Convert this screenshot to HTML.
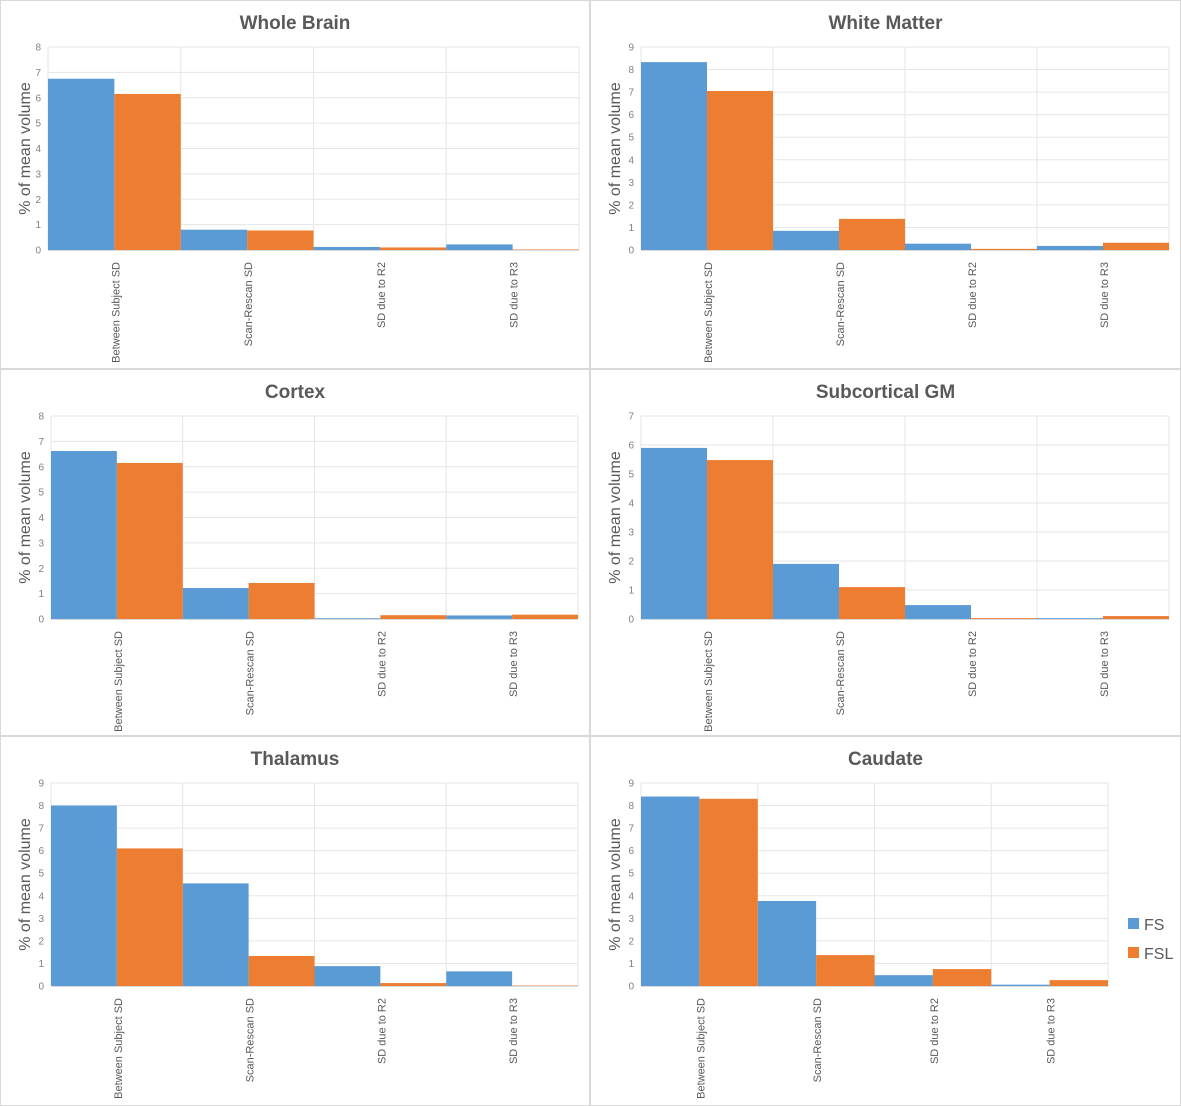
<!DOCTYPE html>
<html><head><meta charset="utf-8">
<style>
html,body{margin:0;padding:0;background:#fff;}
svg{display:block;font-family:"Liberation Sans",sans-serif;}
</style></head>
<body>
<svg id="chart" width="1181" height="1106" viewBox="0 0 1181 1106" xmlns="http://www.w3.org/2000/svg"></svg>
<script>
const categories = ["Between Subject SD","Scan-Rescan SD","SD due to R2","SD due to R3"];
const panelTitles = ["Whole Brain","White Matter","Cortex","Subcortical GM","Thalamus","Caudate"];
const panelMax = [8,9,8,7,9,9];
const fsWholeBrain = [6.75,0.8,0.12,0.22];
const fslWholeBrain = [6.15,0.77,0.1,0.02];
const fsWhiteMatter = [8.33,0.85,0.28,0.18];
const fslWhiteMatter = [7.05,1.38,0.05,0.32];
const fsCortex = [6.62,1.22,0.03,0.14];
const fslCortex = [6.15,1.42,0.15,0.17];
const fsSubcortical = [5.9,1.9,0.48,0.03];
const fslSubcortical = [5.48,1.1,0.03,0.1];
const fsThalamus = [8.0,4.55,0.88,0.65];
const fslThalamus = [6.1,1.33,0.13,0.02];
const fsCaudate = [8.4,3.77,0.48,0.06];
const fslCaudate = [8.3,1.37,0.75,0.26];
const seriesNames = ["FS","FSL"];

const fsData = [fsWholeBrain,fsWhiteMatter,fsCortex,fsSubcortical,fsThalamus,fsCaudate];
const fslData = [fslWholeBrain,fslWhiteMatter,fslCortex,fslSubcortical,fslThalamus,fslCaudate];
const colors = ["#5b9bd5","#ed7d31"];
const NS = "http://www.w3.org/2000/svg";
const svg = document.getElementById("chart");
function mk(tag, attrs, parent){
  const e = document.createElementNS(NS, tag);
  for (const k in attrs) e.setAttribute(k, attrs[k]);
  (parent||svg).appendChild(e);
  return e;
}
const boxes = [
 {px:0,py:0,pw:590,ph:369,l:48,r:579,t:47,b:250,ty:22},
 {px:590,py:0,pw:591,ph:369,l:641,r:1169,t:47,b:250,ty:22},
 {px:0,py:369,pw:590,ph:367,l:51,r:578,t:416,b:619,ty:391},
 {px:590,py:369,pw:591,ph:367,l:641,r:1169,t:416,b:619,ty:391},
 {px:0,py:736,pw:590,ph:370,l:51,r:578,t:783,b:986,ty:758},
 {px:590,py:736,pw:591,ph:370,l:641,r:1108,t:783,b:986,ty:758}
];
boxes.forEach((bx,i)=>{
  const g = mk("g",{});
  
  
  const border = mk("rect",{x:bx.px+0.5,y:bx.py+0.5,width:bx.pw-1,height:bx.ph-1,fill:"#fff",stroke:"#d9d9d9","stroke-width":1},g);
  
  
  const title = mk("text",{x:bx.px+bx.pw/2,y:bx.ty+7,"text-anchor":"middle","font-size":19,"font-weight":"bold",fill:"#595959"},g);
  title.textContent = panelTitles[i];
  
  
  const max = panelMax[i];
  const y = v => bx.b - (v/max)*(bx.b-bx.t);
  const cw = (bx.r-bx.l)/categories.length;
  const x = c => bx.l + c*cw;
  for (let v=0; v<=max; v++){
    const gl = mk("line",{x1:bx.l,x2:bx.r,y1:y(v),y2:y(v),stroke:"#e6e6e6","stroke-width":1},g);
    
    
    const tk = mk("text",{x:bx.l-7,y:y(v)+3.5,"text-anchor":"end","font-size":10,fill:"#808080"},g);
    tk.textContent = String(v);
    
    
  }
  for (let c=0;c<=categories.length;c++){
    const vl = mk("line",{x1:x(c),x2:x(c),y1:bx.t,y2:bx.b,stroke:"#e6e6e6","stroke-width":1},g);
    
    
  }
  const sets = [fsData[i], fslData[i]];
  sets.forEach((arr,s)=>{
    arr.forEach((v,c)=>{
      const bar = mk("rect",{x:x(c)+s*cw/2,y:y(v),width:cw/2,height:Math.max(0,y(0)-y(v)),fill:colors[s]},g);
      
      
    });
  });
  const ax = mk("line",{x1:bx.l,x2:bx.r,y1:bx.b+0.5,y2:bx.b+0.5,stroke:"#d9d9d9","stroke-width":1},g);
  
  
  categories.forEach((cat,c)=>{
    const cx = x(c)+cw/2+5;
    const t = mk("text",{x:0,y:0,"text-anchor":"end","font-size":11,fill:"#595959",transform:`translate(${cx},${bx.b+12}) rotate(-90)`},g);
    t.textContent = cat;
    
    
  });
  const yl = mk("text",{x:0,y:0,"text-anchor":"middle","font-size":16,fill:"#595959",transform:`translate(${bx.px+30},${(bx.t+bx.b)/2}) rotate(-90)`},g);
  yl.textContent = "% of mean volume";
  
  
});
const lg = mk("g",{});


seriesNames.forEach((n,s)=>{
  const yy = 924 + s*29;
  const sw = mk("rect",{x:1128,y:yy-6,width:11,height:11,fill:colors[s]},lg);
  
  
  const t = mk("text",{x:1144,y:yy+6,"font-size":16,fill:"#595959"},lg);
  t.textContent = n;
  
  
});
</script>
</body></html>
